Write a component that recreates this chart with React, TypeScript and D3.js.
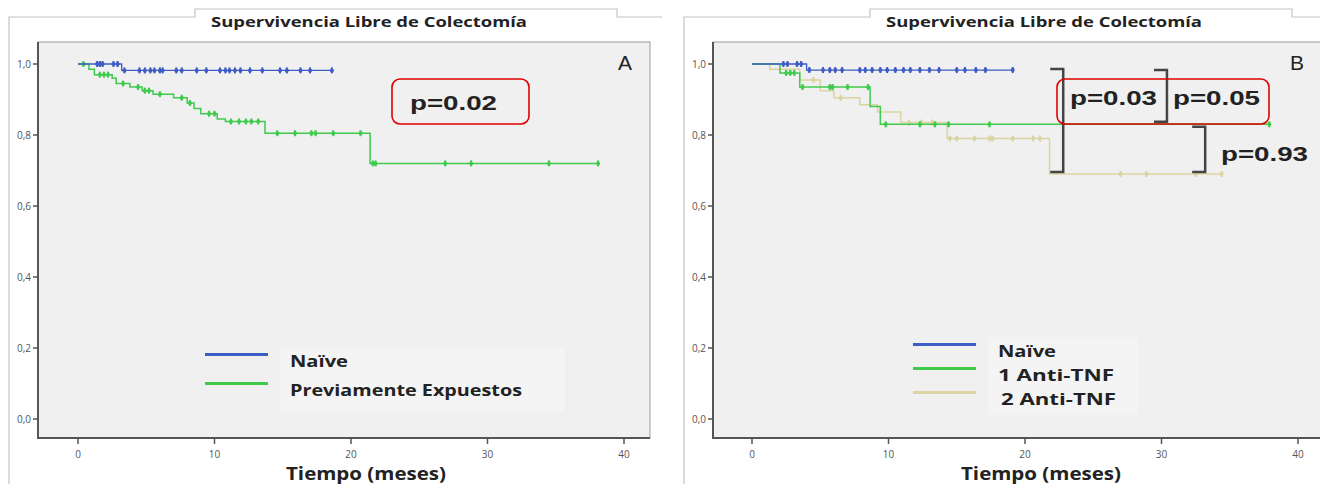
import React from "react";
import * as d3 from "d3";

// ---- data (months / survival proportion) ----
const xTicks = [0, 10, 20, 30, 40];
const yTicks = [0, 0.2, 0.4, 0.6, 0.8, 1.0];

// panel A
const naiveA_t = [0, 3.2];
const naiveA_s = [1.0, 0.982];
const naiveA_end = 18.6;
const naiveA_cens = [1.4, 1.6, 1.8, 2.6, 2.9, 3.4, 4.5, 4.9, 5.3, 5.6, 6.0, 6.2, 7.2, 7.6, 8.7, 9.4, 10.4, 10.8, 11.1, 11.5, 11.9, 12.6, 13.5, 14.8, 15.3, 16.3, 17.0, 18.6];

const prevA_t = [0, 0.8, 1.2, 2.5, 2.8, 3.8, 4.7, 5.5, 7.0, 8.0, 8.5, 9.0, 10.2, 10.8, 13.7, 21.4];
const prevA_s = [1.0, 0.985, 0.97, 0.96, 0.945, 0.935, 0.925, 0.915, 0.905, 0.89, 0.875, 0.86, 0.845, 0.838, 0.805, 0.72];
const prevA_end = 38.1;
const prevA_cens = [0.4, 1.6, 1.9, 2.2, 3.3, 4.4, 4.9, 5.2, 6.0, 7.6, 8.2, 9.6, 10.0, 11.2, 11.8, 12.3, 12.7, 13.2, 14.6, 15.9, 17.1, 17.4, 18.7, 20.7, 21.6, 21.8, 26.9, 28.8, 34.5, 38.1];

// panel B
const naiveB_t = [0, 4.0];
const naiveB_s = [1.0, 0.983];
const naiveB_end = 19.1;
const naiveB_cens = [2.3, 2.6, 3.3, 3.6, 4.2, 5.2, 5.7, 6.1, 6.6, 7.9, 8.3, 8.8, 9.4, 9.9, 10.5, 11.1, 11.6, 12.3, 13.0, 13.7, 15.0, 15.6, 16.4, 17.1, 19.1];

const anti1_t = [0, 2.05, 3.5, 8.65, 9.4];
const anti1_s = [1.0, 0.975, 0.935, 0.88, 0.83];
const anti1_end = 37.9;
const anti1_cens = [2.5, 2.8, 3.1, 3.7, 5.7, 5.9, 7.0, 8.5, 9.8, 12.3, 13.4, 14.4, 17.4, 37.9];

const anti2_t = [0, 1.3, 3.5, 5.0, 6.0, 7.9, 9.2, 10.9, 14.3, 21.8];
const anti2_s = [1.0, 0.985, 0.955, 0.925, 0.905, 0.885, 0.865, 0.835, 0.79, 0.69];
const anti2_end = 34.4;
const anti2_cens = [4.5, 6.5, 11.5, 12.4, 13.2, 14.5, 15.0, 16.3, 17.4, 17.6, 19.1, 20.6, 21.1, 27.0, 28.9, 32.5, 34.4];

const legendA = ["Naïve", "Previamente Expuestos"];
const legendB = ["Naïve", "1 Anti-TNF", "2 Anti-TNF"];
const legendA_len = [58, 232];
const legendB_len = [58, 116, 115];

const BLUE = "#3d5cc4";
const GREEN = "#3fca4c";
const BEIGE = "#dbd4a2";
const FONT = "'Open Sans', 'DejaVu Sans', sans-serif";

type Series = { t: number[]; s: number[]; end: number; cens: number[]; color: string; width: number };

const surv = (sr: Series, x: number) => {
  const i = d3.bisectRight(sr.t, x) - 1;
  return sr.s[Math.max(0, i)];
};

function Curve({ sr, x, y }: { sr: Series; x: d3.ScaleLinear<number, number>; y: d3.ScaleLinear<number, number> }) {
  const pts: [number, number][] = sr.t.map((t, i) => [t, sr.s[i]]);
  pts.push([sr.end, sr.s[sr.s.length - 1]]);
  const line = d3.line<[number, number]>().x(d => x(d[0])).y(d => y(d[1])).curve(d3.curveStepAfter);
  return (
    <g>
      <path d={line(pts) || ""} fill="none" stroke={sr.color} strokeWidth={sr.width} />
      {sr.cens.map((c, i) => (
        <g key={i}>
          <line x1={x(c)} x2={x(c)} y1={y(surv(sr, c)) - 3} y2={y(surv(sr, c)) + 3} stroke={sr.color} strokeWidth={2} />
          <circle cx={x(c)} cy={y(surv(sr, c))} r={2} fill={sr.color} />
        </g>
      ))}
    </g>
  );
}

function Panel({ ox, w, x0, plotRight, series, legend, legendLen, colors, letter, letterX, legendX, legendY, legendGap, boxW, children }: any) {
  const x = d3.scaleLinear().domain([0, 40]).range([x0, x0 + 546]);
  const y = d3.scaleLinear().domain([0, 1]).range([419, 64]);
  const left = ox + 29;
  const right = plotRight;
  const fmt = (v: number) => d3.format(".1f")(v).replace(".", ",");
  return (
    <g>
      {/* outer frame with tab */}
      <path
        d={`M${ox},484 V17 H${ox + 186} V9 H${ox + 608} V17 H${ox + w + 2}`}
        fill="none" stroke="#c4c4c4" strokeWidth={1.2}
      />
      <text x={ox + 360} y={27} textAnchor="middle" fontFamily={FONT} fontWeight={700} fontSize={13.5} fill="#222"
        textLength={316} lengthAdjust="spacingAndGlyphs">Supervivencia Libre de Colectomía</text>
      <rect x={left} y={42} width={right - left} height={396} fill="#f0f0f0" stroke="#9a9a9a" strokeWidth={1} />
      <line x1={left} x2={left} y1={42} y2={439} stroke="#555" strokeWidth={2} />
      <line x1={left} x2={right} y1={438} y2={438} stroke="#555" strokeWidth={2} />
      {yTicks.map(v => (
        <g key={v}>
          <line x1={left - 5} x2={left} y1={y(v)} y2={y(v)} stroke="#555" strokeWidth={1.5} />
          <text x={left - 7} y={y(v) + 3.5} textAnchor="end" fontFamily={FONT} fontSize={10} fill="#555">{fmt(v)}</text>
        </g>
      ))}
      {xTicks.map(v => (
        <g key={v}>
          <line x1={x(v)} x2={x(v)} y1={438} y2={444} stroke="#555" strokeWidth={1.5} />
          <text x={x(v)} y={458} textAnchor="middle" fontFamily={FONT} fontSize={10} fill="#555">{v}</text>
        </g>
      ))}
      <text x={ox + 357} y={480} textAnchor="middle" fontFamily={FONT} fontWeight={700} fontSize={17} fill="#222"
        textLength={160} lengthAdjust="spacingAndGlyphs">Tiempo (meses)</text>
      <text x={letterX} y={70} textAnchor="middle" fontFamily="'Liberation Sans', Arial, sans-serif" fontSize={21} fill="#222">{letter}</text>
      {/* legend */}
      <rect x={legendX + 75} y={legendY - 20} width={boxW} height={legendGap * legend.length + 6} fill="#f4f4f4" />
      {legend.map((l: string, i: number) => (
        <g key={l}>
          <line x1={legendX} x2={legendX + 63} y1={legendY + i * legendGap - 12.5} y2={legendY + i * legendGap - 12.5} stroke={colors[i]} strokeWidth={3} />
          <text x={legendX + 85 + (i === 2 ? 3 : 0)} y={legendY + i * legendGap} fontFamily={FONT} fontWeight={700} fontSize={16.5} fill="#222"
            textLength={legendLen[i]} lengthAdjust="spacingAndGlyphs">{l}</text>
        </g>
      ))}
      {series.map((sr: Series, i: number) => <Curve key={i} sr={sr} x={x} y={y} />)}
      {children(x, y)}
    </g>
  );
}

export default function App() {
  const seriesA: Series[] = [
    { t: prevA_t, s: prevA_s, end: prevA_end, cens: prevA_cens, color: GREEN, width: 1.5 },
    { t: naiveA_t, s: naiveA_s, end: naiveA_end, cens: naiveA_cens, color: BLUE, width: 1.3 },
  ];
  const seriesB: Series[] = [
    { t: anti2_t, s: anti2_s, end: anti2_end, cens: anti2_cens, color: BEIGE, width: 1.5 },
    { t: anti1_t, s: anti1_s, end: anti1_end, cens: anti1_cens, color: GREEN, width: 1.5 },
    { t: naiveB_t, s: naiveB_s, end: naiveB_end, cens: naiveB_cens, color: BLUE, width: 1.3 },
  ];
  const pFont = "'Liberation Sans', Arial, sans-serif";
  const bracket = (x: any, y: any, t: number, s1: number, s2: number) => (
    <path d={`M${x(t) - 13},${y(s1)} H${x(t)} V${y(s2)} H${x(t) - 13}`} fill="none" stroke="#444" strokeWidth={2.5} />
  );
  const pText = (px: number, py: number, label: string) => (
    <text x={px} y={py} fontFamily={pFont} fontWeight={700} fontSize={21} fill="#222" textLength={87} lengthAdjust="spacingAndGlyphs">{label}</text>
  );
  return (
    <svg width={1320} height={484} style={{ position: "absolute", left: 0, top: 0, background: "#fff" }}>
      <Panel ox={9} w={651} x0={78} plotRight={650} series={seriesA} legend={legendA} legendLen={legendA_len} colors={[BLUE, GREEN]}
        letter="A" letterX={625} legendX={205} legendY={367} legendGap={29} boxW={285}>
        {() => (
          <g>
            <rect x={392} y={79} width={137} height={45} rx={8} fill="none" stroke="#e00000" strokeWidth={1.6} />
            {pText(410, 110, "p=0.02")}
          </g>
        )}
      </Panel>
      <Panel ox={684} w={636} x0={752} plotRight={1324} series={seriesB} legend={legendB} legendLen={legendB_len} colors={[BLUE, GREEN, BEIGE]}
        letter="B" letterX={1297} legendX={913} legendY={357} legendGap={24} boxW={150}>
        {(x: any, y: any) => (
          <g>
            {bracket(x, y, 22.8, 0.986, 0.696)}
            {bracket(x, y, 30.4, 0.983, 0.837)}
            {bracket(x, y, 33.2, 0.823, 0.696)}
            <rect x={1057} y={79} width={212} height={45} rx={8} fill="none" stroke="#e00000" strokeWidth={1.6} />
            {pText(1070, 105, "p=0.03")}
            {pText(1173, 105, "p=0.05")}
            {pText(1221, 161, "p=0.93")}
          </g>
        )}
      </Panel>
    </svg>
  );
}
